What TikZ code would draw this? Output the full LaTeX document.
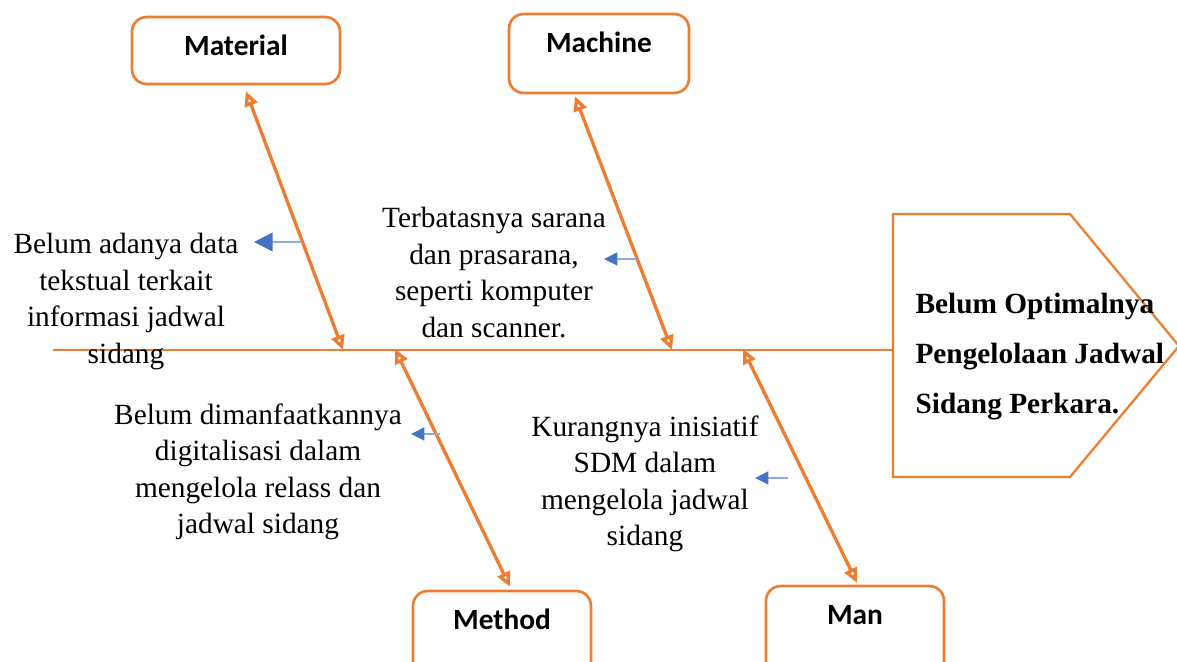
\documentclass[tikz,border=0pt]{standalone}
\usepackage{fontspec}
\setmainfont{Liberation Serif}
\newfontfamily\calfont{Carlito}
\usepackage{xcolor}
\usetikzlibrary{arrows.meta}
\definecolor{fishorange}{HTML}{ED7D31}
\definecolor{noteblue}{HTML}{4472C4}
\definecolor{notelight}{HTML}{8FAADC}

\begin{document}
\begin{tikzpicture}[x=0.375pt,y=-0.375pt,
  cause/.style={draw=fishorange,line width=1pt,rounded corners=5.5pt,inner sep=0pt,text height=14.6pt,anchor=base,font=\calfont\bfseries\fontsize{11pt}{13pt}\selectfont},
  bone/.style={draw=fishorange,line width=1.25pt,{Triangle[open,length=5.5pt,width=5pt]}-{Triangle[open,length=5.5pt,width=5pt]}},
  note/.style={align=center,anchor=north,inner sep=0pt,font=\fontsize{11pt}{13.7pt}\selectfont},
  pointer/.style={draw=notelight,line width=0.75pt,-{Triangle[length=5pt,width=4.8pt,color=noteblue]}}]
  \useasboundingbox (0,0) rectangle (1177,662);
  \node[cause,minimum width=78pt,text depth=10.5pt] (material) at (236,56) {Material};
  \node[cause,minimum width=67.5pt,text depth=15pt] (machine) at (599,53) {Machine};
  \node[cause,minimum width=66.75pt,text depth=20pt] (method) at (502,630) {Method};
  \node[cause,minimum width=66.75pt,text depth=20pt] (man) at (855,625) {Man};
  \draw[fishorange,line width=0.85pt] (893,214) -- (1070,214) -- (1179,346) -- (1070,477) -- (893,477) -- cycle;
  \coordinate (headin) at (893,350);
  \coordinate (tail) at (53,350);
  \coordinate (j1) at (343,350);
  \coordinate (j2) at (672,350);
  \coordinate (j3) at (395,349);
  \coordinate (j4) at (743,349);
  \draw[fishorange,line width=0.85pt] (tail) -- (headin);
  \draw[bone] ([shift={(10,6)}]material.south) -- (j1);
  \draw[bone] ([shift={(-24,2)}]machine.south) -- (j2);
  \draw[bone] (j3) -- ([shift={(8,-3)}]method.north);
  \draw[bone] (j4) -- ([shift={(2,-2)}]man.north);
  \node[anchor=north west,align=left,inner sep=0pt,font=\bfseries\fontsize{11pt}{18.75pt}\selectfont] (effect) at (915,293) {Belum Optimalnya\\Pengelolaan Jadwal\\Sidang Perkara.};
  \node[note] (matnote) at (126,233) {Belum adanya data\\tekstual terkait\\informasi jadwal\\sidang};
  \node[note] (machnote) at (494,207) {Terbatasnya sarana\\dan prasarana,\\seperti komputer\\dan scanner.};
  \node[note] (methnote) at (258,403) {Belum dimanfaatkannya\\digitalisasi dalam\\mengelola relass dan\\jadwal sidang};
  \node[note] (mannote) at (645,415) {Kurangnya inisiatif\\SDM dalam\\mengelola jadwal\\sidang};
  \coordinate (p1) at (302,242); \coordinate (q1) at (254,242);
  \coordinate (p2) at (637,259); \coordinate (q2) at (604,259);
  \coordinate (p3) at (440,434); \coordinate (q3) at (411,434);
  \coordinate (p4) at (788,478); \coordinate (q4) at (755,478);
  \draw[pointer,-{Triangle[length=7pt,width=7pt,color=noteblue]}] (p1) -- (q1);
  \draw[pointer] (p2) -- (q2);
  \draw[pointer] (p3) -- (q3);
  \draw[pointer] (p4) -- (q4);
\end{tikzpicture}
\end{document}
